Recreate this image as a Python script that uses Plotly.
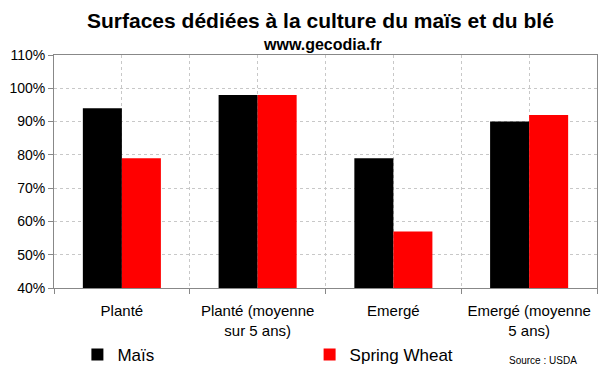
import plotly.graph_objects as go

categories = ["Planté", "Planté (moyenne<br>sur 5 ans)", "Emergé", "Emergé (moyenne<br>5 ans)"]
mais = [94, 98, 79, 90]
wheat = [79, 98, 57, 92]
yticks = [40, 50, 60, 70, 80, 90, 100, 110]

fig = go.Figure()
fig.add_trace(go.Bar(x=categories, y=mais, name="Maïs", legend="legend",
                     marker=dict(color="#000000", line=dict(width=0))))
fig.add_trace(go.Bar(x=categories, y=wheat, name="Spring Wheat", legend="legend2",
                     marker=dict(color="#ff0000", line=dict(width=0))))
# invisible trace for the category-centre gridlines
fig.add_trace(go.Scatter(x=categories, y=[None]*4, xaxis="x2", showlegend=False, hoverinfo="skip"))

font = "Liberation Sans, Arial, sans-serif"
legend_common = dict(xref="container", yref="container", y=0.046, xanchor="left", yanchor="middle",
                     font=dict(size=17, family=font), bgcolor="rgba(0,0,0,0)", itemwidth=30)
fig.update_layout(
    width=600, height=372,
    margin=dict(l=54, r=3, t=55, b=84, autoexpand=False),
    paper_bgcolor="white", plot_bgcolor="white",
    barmode="group", bargap=0.425, bargroupgap=0,
    font=dict(family=font, size=14, color="#000"),
    showlegend=True,
    legend=dict(x=0.129, **legend_common),
    legend2=dict(x=0.516, **legend_common),
    xaxis=dict(type="category", tickson="boundaries", ticks="outside", ticklen=5, tickcolor="#888",
               showline=True, linecolor="#888", linewidth=1, mirror=True, automargin=False,
               showgrid=True, gridcolor="#c8c8c8", griddash="dot", gridwidth=1,
               ticklabelstandoff=9,
               tickfont=dict(size=15, family=font), range=[-0.5, 3.5]),
    xaxis2=dict(type="category", overlaying="x", matches="x", showgrid=True, gridcolor="#c8c8c8",
                griddash="dot", showticklabels=False, ticks="", showline=False, zeroline=False,
                automargin=False),
    yaxis=dict(range=[40, 110], tickvals=yticks, ticktext=[f"{v}%" for v in yticks],
               ticks="outside", ticklen=5, tickcolor="#888", automargin=False,
               showline=True, linecolor="#888", linewidth=1, mirror=True,
               showgrid=True, gridcolor="#c8c8c8", griddash="dot", gridwidth=1,
               zeroline=False, tickfont=dict(size=14, family=font)),
    annotations=[
        dict(text="<b>Surfaces dédiées à la culture du maïs et du blé</b>", xref="paper", yref="paper",
             x=0.49, y=1.0, yshift=35, xanchor="center", yanchor="middle", showarrow=False,
             font=dict(size=21, family=font)),
        dict(text="<b>www.gecodia.fr</b>", xref="paper", yref="paper",
             x=0.495, y=1.0, yshift=11, xanchor="center", yanchor="middle", showarrow=False,
             font=dict(size=16, family=font)),
        dict(text="Source : USDA", xref="paper", yref="paper", x=0.967, y=-0.313, xanchor="right",
             yanchor="middle", showarrow=False, font=dict(size=10, family=font)),
    ],
)
fig.write_html("out.html", config={"displayModeBar": False},
               post_script="document.body.style.margin='0';document.body.style.padding='0';")
